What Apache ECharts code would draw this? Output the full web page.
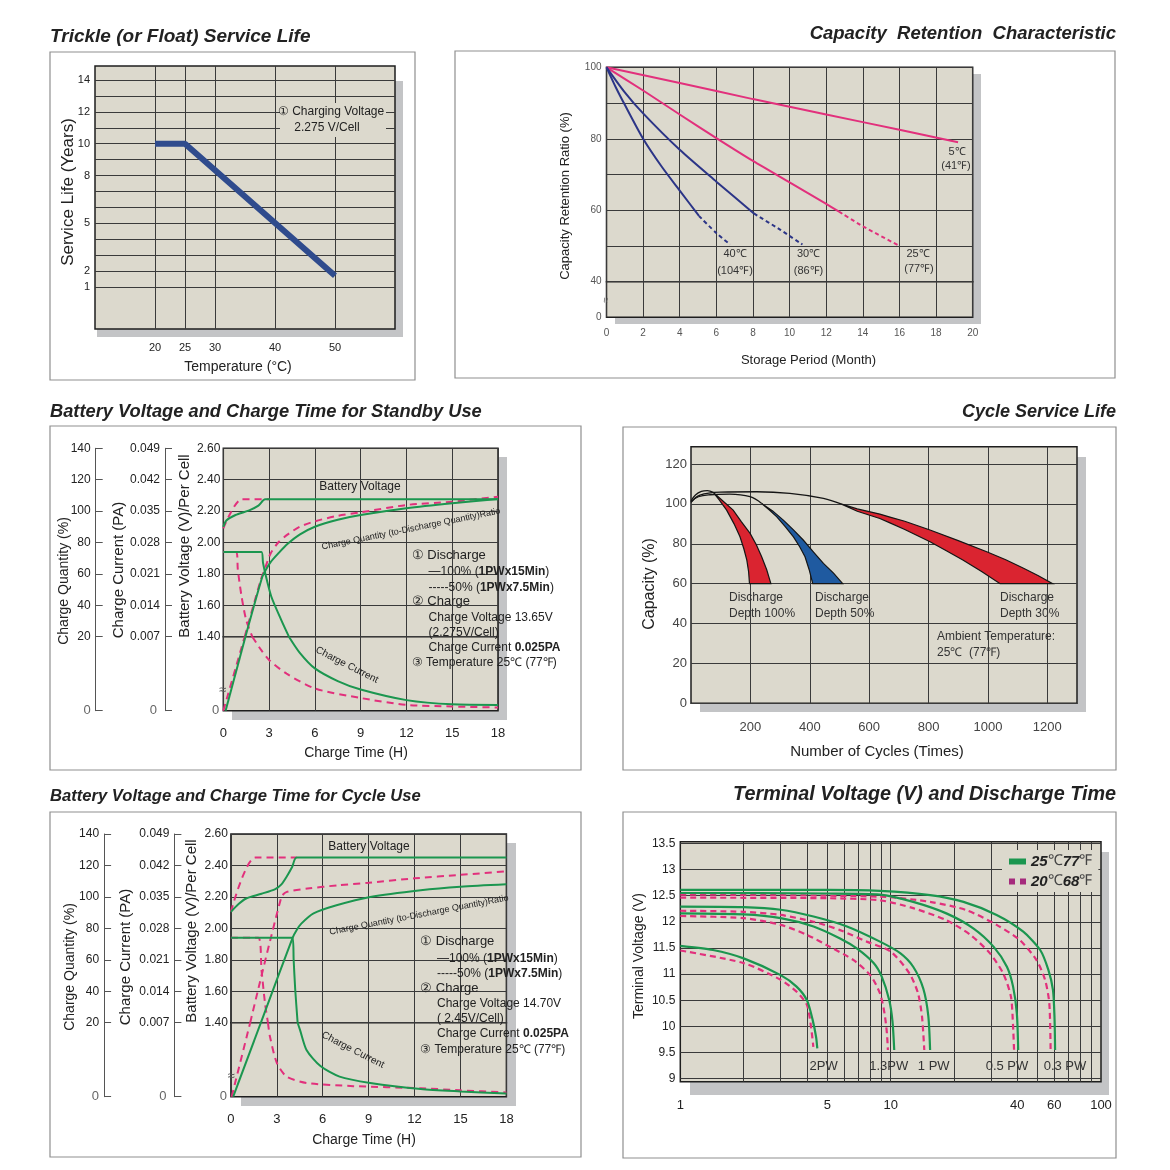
<!DOCTYPE html>
<html>
<head>
<meta charset="utf-8">
<script src="https://cdn.jsdelivr.net/npm/echarts@6.0.0/dist/echarts.min.js"></script>
<style>
  html, body { margin: 0; padding: 0; background: #fff; }
  #main { width: 1170px; height: 1170px; }
</style>
</head>
<body>
<div id="main"></div>
<script>
// ---------- data ----------

// Trickle (float) service life: [temperature °C, years]
var trickleLife = [[20, 10], [25, 10], [50, 1.7]];
var trickleTempTicks = [20, 25, 30, 40, 50];
var trickleYearGrid = [1, 2, 3, 4, 5, 6, 7, 8, 9, 10, 11, 12, 13, 14];
var trickleYearLabels = [1, 2, 5, 8, 10, 12, 14];

// Capacity retention: [month, %]
var ret5C = [[0, 100], [4, 95.6], [8, 91.1], [12, 86.8], [16, 82.5], [19.2, 79]];
var ret25C = [[0, 100], [2, 93.5], [4, 86.8], [6, 80.2], [8, 73.8], [10, 67.8], [12, 61.8], [12.7, 59.6]];
var ret25CExt = [[12.7, 59.6], [14, 55.5], [15.9, 50.3]];
var ret30C = [[0, 100], [1, 93], [2, 87.1], [4, 76.9], [6, 68], [8.05, 59.1]];
var ret30CExt = [[8.05, 59.1], [9.5, 54.5], [10.7, 50.4]];
var ret40C = [[0, 100], [0.5, 94.5], [1, 89.5], [2, 80], [3, 72.3], [4, 65.5], [5.05, 58.4]];
var ret40CExt = [[5.05, 58.4], [6, 53.6], [6.75, 50.4]];
var retentionLabels = [40, 60, 80, 100];

// Standby use: [hours, value]  (100% discharge = solid, 50% = dashed)
var sbVoltFull = [[0, 2.10], [0.2, 2.14], [0.8, 2.175], [1.7, 2.205], [2.3, 2.235], [2.75, 2.275], [18, 2.275]];
var sbVoltHalf = [[0, 2.09], [1.2, 2.275], [3, 2.275]];
var sbCurFull = [[0, 0.0259], [2.5, 0.0259], [2.6, 0.0235], [2.75, 0.0211], [3.15, 0.0159], [3.8, 0.0107], [4.3, 0.007], [5, 0.0055], [6, 0.004], [7.5, 0.0028], [9, 0.002], [12, 0.001], [15, 0.0006], [18, 0.00055]];
var sbCurHalf = [[0, 0.0259], [0.85, 0.0259], [0.95, 0.022], [1.2, 0.0159], [1.5, 0.0107], [1.9, 0.007], [2.5, 0.0057], [3, 0.0048], [4.15, 0.0035], [6, 0.0021], [9, 0.0012], [12, 0.00055], [15, 0.0004], [18, 0.0003]];
var sbQtyFull = [[0.15, 0], [1.45, 20], [2.55, 58], [2.75, 62], [3.1, 67.5], [3.6, 73], [4.2, 79], [5, 85], [6, 90], [7.5, 94.5], [9, 97.5], [12, 101.8], [15, 105], [18, 107.7]];
var sbQtyHalf = [[0, 0], [1.4, 20], [2.45, 56], [2.75, 64], [3.1, 73], [3.6, 80], [4.2, 85], [5, 90], [6, 93.5], [7.5, 97], [9, 99.2], [12, 103.9], [15, 106], [18, 109.2]];

// Cycle use: [hours, value]
var cyVoltFull = [[0, 2.105], [0.5, 2.155], [1.0, 2.19], [2.0, 2.22], [2.9, 2.25], [3.3, 2.28], [3.65, 2.33], [4.0, 2.39], [4.3, 2.45], [18, 2.45]];
var cyVoltHalf = [[0, 2.105], [1.6, 2.45], [4.3, 2.45]];
var cyCurFull = [[0, 0.0259], [4.03, 0.0259], [4.1, 0.021], [4.2, 0.0145], [4.36, 0.007], [4.52, 0.0063], [4.95, 0.0044], [5.85, 0.0029], [7.1, 0.0019], [9.1, 0.0013], [12.4, 0.00072], [15, 0.0005], [18, 0.0003]];
var cyCurHalf = [[0, 0.0259], [1.79, 0.0259], [2.0, 0.0187], [2.23, 0.0113], [2.42, 0.007], [2.55, 0.0057], [3.0, 0.0032], [3.64, 0.0019], [4.95, 0.0013], [8, 0.001], [12.4, 0.0008], [15, 0.0006], [18, 0.0004]];
var cyQtyFull = [[0.15, 0], [1.96, 20], [4.03, 74], [4.3, 79], [4.6, 83], [5.4, 89.5], [6.9, 94.7], [9.1, 100], [12.4, 104.3], [15, 106.5], [18, 108]];
var cyQtyHalf = [[0.05, 0], [1.26, 20], [3.3, 100], [3.65, 103.2], [5, 105.3], [7, 107.4], [9, 109], [12, 111.8], [15, 114], [18, 116.3]];

// Cycle service life: [cycles, capacity %]
var leadDod100 = [[0, 101.5], [15, 104.5], [35, 106.3], [55, 106.7], [75, 105.8]];
var leadDod50 = [[0, 101], [25, 103.6], [64, 104.6], [130, 104.9], [199, 103.6], [238, 100.2]];
var leadDod30 = [[0, 100.8], [30, 104.4], [98, 105.9], [221, 106.1], [333, 105.3], [446, 102.8], [505, 100]];
var dod100Outer = [[75, 105.8], [100, 102.5], [142, 96.9], [170, 91], [199, 85.2], [220, 79.5], [238, 73.5], [255, 67], [269, 60]];
var dod100Inner = [[75, 105.8], [95, 102], [120, 96.9], [145, 90], [165, 83.5], [178, 77.5], [188, 71.8], [194, 66], [197, 60]];
var dod50Outer = [[238, 100.2], [275, 96.5], [311, 91.9], [345, 87], [378, 81.9], [412, 76], [446, 70.2], [480, 65.3], [511, 60]];
var dod50Inner = [[238, 100.2], [265, 96.8], [289, 93.5], [318, 88.5], [345, 83.5], [366, 78.5], [384, 73.5], [398, 67], [410, 60]];
var dod30Outer = [[505, 100], [560, 97.5], [636, 94.9], [670, 93.4], [720, 91.3], [805, 86.9], [900, 81.6], [996, 76], [1060, 72], [1120, 67.7], [1170, 64], [1218, 60]];
var dod30Inner = [[505, 100], [560, 96.3], [636, 92.7], [670, 90.5], [720, 87.2], [805, 81], [860, 76.5], [917, 71.8], [980, 66], [1041, 60]];
var cycleTicks = [200, 400, 600, 800, 1000, 1200];
var capacityTicks = [0, 20, 40, 60, 80, 100, 120];

// Terminal voltage vs discharge time (min): 25°C solid, 20°C dashed
var tv25_2PW = [[1, 11.54], [1.43, 11.46], [2, 11.3], [3, 10.98], [3.57, 10.76], [4, 10.5], [4.26, 10.12], [4.42, 9.8], [4.48, 9.58]];
var tv20_2PW = [[1, 11.45], [2, 11.21], [3, 10.89], [3.6, 10.65], [4, 10.41], [4.18, 10.0], [4.29, 9.61]];
var tv25_13PW = [[1, 12.16], [2, 12.14], [3, 12.07], [4.3, 11.91], [5.75, 11.68], [6.9, 11.49], [8.3, 11.21], [9.07, 10.95], [9.85, 10.5], [10.2, 10.1], [10.4, 9.55]];
var tv20_13PW = [[1, 12.11], [2, 12.07], [3, 11.94], [4, 11.75], [5.15, 11.52], [6.64, 11.27], [8, 10.98], [8.9, 10.63], [9.35, 10.25], [9.6, 9.87], [9.7, 9.55]];
var tv25_1PW = [[1, 12.29], [2, 12.28], [3, 12.23], [4.3, 12.1], [6.2, 11.91], [8.9, 11.62], [11.1, 11.4], [12.8, 11.14], [14.3, 10.72], [15.1, 10.2], [15.4, 9.55]];
var tv20_1PW = [[1, 12.21], [2, 12.19], [3, 12.13], [4.3, 12.0], [5.75, 11.84], [7.7, 11.62], [10, 11.43], [12.3, 11.01], [13.5, 10.63], [14.1, 10.18], [14.45, 9.55]];
var tv25_05PW = [[1, 12.55], [5, 12.54], [8.9, 12.52], [12.8, 12.38], [18.4, 12.16], [24.8, 11.87], [30.9, 11.52], [35.7, 11.14], [38.2, 10.76], [39.8, 10.25], [40.4, 9.55]];
var tv20_05PW = [[1, 12.46], [5, 12.45], [8.9, 12.41], [12.8, 12.26], [18.4, 12.03], [23.9, 11.75], [29.6, 11.4], [34.3, 11.01], [37.3, 10.57], [38.2, 10.0], [38.6, 9.55]];
var tv25_03PW = [[1, 12.61], [5, 12.61], [8.9, 12.59], [15.4, 12.51], [22.2, 12.38], [31.9, 12.13], [42.7, 11.81], [51.4, 11.46], [56.2, 11.08], [59.1, 10.7], [60.1, 10.18], [60.5, 9.55]];
var tv20_03PW = [[1, 12.52], [8.9, 12.48], [15.4, 12.38], [23, 12.22], [31.9, 11.94], [41.1, 11.65], [49.3, 11.27], [54.2, 10.89], [56.8, 10.44], [57.6, 9.55]];
var dischargeGridTimes = [2, 3, 4, 5, 6, 7, 8, 9, 10, 20, 30, 40, 50, 60, 70, 80, 90];
var dischargeTimeLabels = [1, 5, 10, 40, 60, 100];
var terminalVoltTicks = [9, 9.5, 10, 10.5, 11, 11.5, 12, 12.5, 13, 13.5];

// ---------- styling ----------
var FONT = '"Liberation Sans", Arial, sans-serif';
var C = {
  plot: '#dcd9cd', shadow: '#c3c4c6', grid: '#3a3a3a', frame: '#1e1e1e', box: '#8f8f8f',
  green: '#1b964f', pink: '#e2307c', navy: '#2c3587', trickle: '#2f4b8d',
  red: '#da2430', blue: '#1f5aa0', legendPink: '#a52a7c'
};

var grids = [], xAxes = [], yAxes = [], series = [], graphics = [];

function addGrid(l, t, r, b) {
  grids.push({ left: l, top: t, width: r - l, height: b - t, show: true, backgroundColor: C.plot,
    borderColor: C.frame, borderWidth: 1.5, containLabel: false, outerBoundsMode: 'none' });
  return grids.length - 1;
}
function baseAxis(g, o) {
  return Object.assign({ type: 'value', gridIndex: g, axisLine: { show: false, onZero: false },
    axisTick: { show: false }, axisLabel: { show: false }, splitLine: { show: false } }, o);
}
function addX(g, o) { xAxes.push(baseAxis(g, o)); return xAxes.length - 1; }
function addY(g, o) { yAxes.push(baseAxis(g, o)); return yAxes.length - 1; }
function gridLine() { return { show: true, lineStyle: { color: C.grid, width: 1 } }; }
function plain(v) { return String(v); }
function label(o) { return Object.assign({ color: '#222', fontSize: 12, fontFamily: FONT, margin: 5, formatter: plain }, o); }
function addLine(xi, yi, data, color, width, dash, extra) {
  series.push(Object.assign({
    type: 'line', xAxisIndex: xi, yAxisIndex: yi, data: data, symbol: 'none', smooth: 0.25,
    silent: true, z: dash ? 3 : 4,
    lineStyle: { color: color, width: width, type: dash || 'solid', cap: 'butt' },
    itemStyle: { color: color }
  }, extra || {}));
}
function rect(x0, y0, x1, y1, style, z) {
  graphics.push({ type: 'rect', silent: true, z: z, shape: { x: x0, y: y0, width: x1 - x0, height: y1 - y0 }, style: style });
}
function txt(x, y, text, size, o) {
  o = o || {};
  graphics.push({ type: 'text', silent: true, z: 20, x: x, y: y, rotation: o.rot || 0,
    style: { text: text, fill: o.color || '#222', font: ((o.weight || '') + ' ' + size + 'px ' + (o.family || FONT)).trim(),
      align: o.align || 'center', verticalAlign: 'middle', rich: o.rich } });
}
var VERT = Math.PI / 2;

// ---------- panel frames, shadows, titles ----------
[[50, 52, 415, 380], [455, 51, 1115, 378], [50, 426, 581, 770], [623, 427, 1116, 770], [50, 812, 581, 1157], [623, 812, 1116, 1158]]
  .forEach(function (b) { rect(b[0], b[1], b[2], b[3], { fill: '#fff', stroke: C.box, lineWidth: 1.2 }, -20); });
[[97, 81, 403, 337], [615, 74, 981, 324], [232, 457, 507, 720], [700, 457, 1086, 712], [241, 843, 516, 1106], [690, 852, 1109, 1095]]
  .forEach(function (s) { rect(s[0], s[1], s[2], s[3], { fill: C.shadow }, -10); });

var TITLE = 'bold italic';
txt(50, 37, 'Trickle (or Float) Service Life', 19, { weight: TITLE, align: 'left' });
txt(1116, 34, 'Capacity  Retention  Characteristic', 18.5, { weight: TITLE, align: 'right' });
txt(50, 412, 'Battery Voltage and Charge Time for Standby Use', 18.3, { weight: TITLE, align: 'left' });
txt(1116, 412, 'Cycle Service Life', 18, { weight: TITLE, align: 'right' });
txt(50, 796, 'Battery Voltage and Charge Time for Cycle Use', 16.6, { weight: TITLE, align: 'left' });
txt(1116, 795, 'Terminal Voltage (V) and Discharge Time', 19.8, { weight: TITLE, align: 'right' });

// ---------- 1. trickle service life ----------
var g1 = addGrid(95, 66, 395, 329);
var x1 = addX(g1, { min: 10, max: 60, axisTick: { show: false, customValues: trickleTempTicks }, splitLine: gridLine(),
  axisLabel: label({ customValues: trickleTempTicks, fontSize: 11, margin: 13 }) });
var y1 = addY(g1, { min: -1.64, max: 14.88, axisTick: { show: false, customValues: trickleYearGrid }, splitLine: gridLine(),
  axisLabel: label({ customValues: trickleYearLabels, fontSize: 11, margin: 5 }) });
addLine(x1, y1, trickleLife, C.trickle, 6, null, { smooth: false });
rect(280, 103, 386, 137, { fill: C.plot }, 15);
txt(331, 112, '\u2460 Charging Voltage', 12);
txt(327, 128, '2.275 V/Cell', 12);
txt(68, 192, 'Service Life (Years)', 17, { rot: VERT });
txt(238, 367, 'Temperature (\u00b0C)', 14);

// ---------- 2. capacity retention ----------
var g2u = addGrid(606.5, 67.3, 972.7, 281.7);
var g2l = addGrid(606.5, 281.7, 972.7, 317.3);
var x2u = addX(g2u, { min: 0, max: 20, interval: 2, splitLine: gridLine() });
addX(g2l, { min: 0, max: 20, interval: 2, splitLine: gridLine(), axisLabel: label({ fontSize: 10, color: '#555', margin: 11 }) });
var y2u = addY(g2u, { min: 40, max: 100, interval: 10, splitLine: gridLine(),
  axisLabel: label({ customValues: retentionLabels, fontSize: 10, color: '#555', margin: 5 }) });
addY(g2l, { min: 0, max: 40, axisLabel: label({ customValues: [0], fontSize: 10, color: '#555', margin: 5 }) });
addLine(x2u, y2u, ret5C, C.pink, 2);
addLine(x2u, y2u, ret25C, C.pink, 2);
addLine(x2u, y2u, ret25CExt, C.pink, 2, [4, 3]);
addLine(x2u, y2u, ret30C, C.navy, 2);
addLine(x2u, y2u, ret30CExt, C.navy, 2, [4, 3]);
addLine(x2u, y2u, ret40C, C.navy, 2);
addLine(x2u, y2u, ret40CExt, C.navy, 2, [4, 3]);
txt(606.5, 300, '\u2248', 10, { rot: VERT, color: '#555' });
txt(957, 152, '5\u2103', 11, { color: '#333' });
txt(956, 166, '(41\u2109)', 11, { color: '#333' });
txt(735, 254, '40\u2103', 11, { color: '#333' });
txt(735, 271, '(104\u2109)', 11, { color: '#333' });
txt(808.5, 254, '30\u2103', 11, { color: '#333' });
txt(808.5, 271, '(86\u2109)', 11, { color: '#333' });
txt(918, 254, '25\u2103', 11, { color: '#333' });
txt(919, 269, '(77\u2109)', 11, { color: '#333' });
txt(565, 196, 'Capacity Retention Ratio (%)', 13, { rot: VERT });
txt(808.5, 360, 'Storage Period (Month)', 13);

// ---------- 3 & 5. charge characteristic panels ----------
function chargePanel(p) {
  var gu = addGrid(p.l, p.t, p.r, p.m), gl = addGrid(p.l, p.m, p.r, p.b);
  var xu = addX(gu, { min: 0, max: 18, interval: 3, splitLine: gridLine() });
  var xl = addX(gl, { min: 0, max: 18, interval: 3, splitLine: gridLine(), axisLabel: label({ fontSize: 13, margin: 16 }) });
  var side = { show: true, onZero: false, lineStyle: { color: '#555', width: 1 } };
  function tick(vals) { return { show: true, inside: true, length: 7, lineStyle: { color: '#555' }, customValues: vals }; }
  function zero(m) { return label({ customValues: [0], formatter: function () { return '0'; }, color: '#666', fontSize: 13, margin: m }); }
  var yV = addY(gu, { min: 1.4, max: 2.6, interval: 0.2, splitLine: gridLine(),
    axisLabel: label({ margin: 3, formatter: function (v) { return v.toFixed(2); } }) });
  var yI = addY(gu, { position: 'left', offset: p.offI, min: 0.007, max: 0.049, interval: 0.007, axisLine: side,
    axisTick: { show: true, inside: true, length: 7, lineStyle: { color: '#555' } },
    axisLabel: label({ formatter: function (v) { return v.toFixed(3); } }) });
  var yQ = addY(gu, { position: 'left', offset: p.offQ, min: 20, max: 140, interval: 20, axisLine: side,
    axisTick: { show: true, inside: true, length: 7, lineStyle: { color: '#555' } }, axisLabel: label({}) });
  addY(gl, { min: 0, max: 1.4, axisLabel: zero(4) });
  var yI0 = addY(gl, { position: 'left', offset: p.offI, min: 0, max: 0.007, axisLine: side, axisTick: tick([0]), axisLabel: zero(8) });
  var yQ0 = addY(gl, { position: 'left', offset: p.offQ, min: 0, max: 20, axisLine: side, axisTick: tick([0]), axisLabel: zero(5) });

  var dash = [7, 5];
  function split(pts, cut, yHi, yLo, color, d) {
    addLine(xu, yHi, pts.filter(function (q) { return q[1] >= cut; }), color, 2, d);
    addLine(xl, yLo, pts.filter(function (q) { return q[1] <= cut; }), color, 2, d);
  }
  addLine(xu, yV, p.voltHalf, C.pink, 2, dash);
  addLine(xu, yV, p.voltFull, C.green, 2);
  split(p.curHalf, 0.007, yI, yI0, C.pink, dash);
  split(p.curFull, 0.007, yI, yI0, C.green);
  split(p.qtyHalf, 20, yQ, yQ0, C.pink, dash);
  split(p.qtyFull, 20, yQ, yQ0, C.green);
}

chargePanel({ l: 223.3, t: 448.3, r: 498, m: 636.7, b: 710.7, offI: 58.3, offQ: 127.6,
  voltFull: sbVoltFull, voltHalf: sbVoltHalf, curFull: sbCurFull, curHalf: sbCurHalf, qtyFull: sbQtyFull, qtyHalf: sbQtyHalf });
chargePanel({ l: 230.9, t: 834, r: 506.4, m: 1022.7, b: 1096.7, offI: 56.5, offQ: 126.8,
  voltFull: cyVoltFull, voltHalf: cyVoltHalf, curFull: cyCurFull, curHalf: cyCurHalf, qtyFull: cyQtyFull, qtyHalf: cyQtyHalf });

var richB = { b: { fontWeight: 'bold', fontSize: 12, fontFamily: FONT, fill: '#222' } };
function chargeNotes(x0, x1, y, voltText, cellText) {
  var step = [0, 16.7, 32.3, 46.7, 62.3, 77.3, 92.3, 107.7];
  txt(x0, y + step[0], '\u2460 Discharge', 13, { align: 'left' });
  txt(x1, y + step[1], '\u2014100% ({b|1PWx15Min})', 12, { align: 'left', rich: richB });
  txt(x1, y + step[2], '-----50% ({b|1PWx7.5Min})', 12, { align: 'left', rich: richB });
  txt(x0, y + step[3], '\u2461 Charge', 13, { align: 'left' });
  txt(x1, y + step[4], 'Charge Voltage ' + voltText, 12, { align: 'left' });
  txt(x1, y + step[5], cellText, 12, { align: 'left' });
  txt(x1, y + step[6], 'Charge Current {b|0.025PA}', 12, { align: 'left', rich: richB });
  txt(x0, y + step[7], '\u2462 Temperature 25\u2103 (77\u2109)', 12, { align: 'left' });
}
// standby notes
txt(360, 487, 'Battery Voltage', 12);
txt(411, 529, 'Charge Quantity (to-Discharge Quantity)Ratio', 9, { rot: 0.2 });
txt(347, 665, 'Charge Current', 10, { rot: -0.47 });
chargeNotes(411.7, 428.6, 555, '13.65V', '(2.275V/Cell)');
txt(222.5, 690, '\u2248', 13, { color: '#555' });
txt(64, 581, 'Charge Quantity (%)', 14, { rot: VERT });
txt(119, 570, 'Charge Current (PA)', 15, { rot: VERT });
txt(185, 546, 'Battery Voltage (V)/Per Cell', 15, { rot: VERT });
txt(356, 753, 'Charge Time (H)', 14);
// cycle notes
txt(369, 847, 'Battery Voltage', 12);
txt(419, 915, 'Charge Quantity (to-Discharge Quantity)Ratio', 9, { rot: 0.19 });
txt(353, 1050, 'Charge Current', 10, { rot: -0.47 });
chargeNotes(420.2, 437, 941.7, '14.70V', '( 2.45V/Cell)');
txt(231, 1076, '\u2248', 13, { color: '#555' });
txt(70, 967, 'Charge Quantity (%)', 14, { rot: VERT });
txt(126, 957, 'Charge Current (PA)', 15, { rot: VERT });
txt(192, 931, 'Battery Voltage (V)/Per Cell', 15, { rot: VERT });
txt(364, 1140, 'Charge Time (H)', 14);

// ---------- 4. cycle service life ----------
var g4 = addGrid(691, 446.7, 1077, 703.3);
var x4 = addX(g4, { min: 0, max: 1300, axisTick: { show: false, customValues: cycleTicks }, splitLine: gridLine(),
  axisLabel: label({ customValues: cycleTicks, fontSize: 13, color: '#444', margin: 18 }) });
var y4 = addY(g4, { min: 0, max: 128.7, axisTick: { show: false, customValues: capacityTicks }, splitLine: gridLine(),
  axisLabel: label({ customValues: capacityTicks, fontSize: 13, color: '#444', margin: 4 }) });
function band(outer, inner, color) {
  series.push({ type: 'custom', xAxisIndex: x4, yAxisIndex: y4, data: [[outer[0][0], outer[0][1]]], silent: true, z: 3,
    renderItem: function (params, api) {
      var pts = outer.concat(inner.slice().reverse()).map(function (p) { return api.coord(p); });
      return { type: 'polygon', shape: { points: pts }, style: { fill: color, stroke: '#151515', lineWidth: 1.2 } };
    } });
}
addLine(x4, y4, leadDod30, '#151515', 1.3, null, { smooth: 0.4 });
addLine(x4, y4, leadDod50, '#151515', 1.3, null, { smooth: 0.4 });
addLine(x4, y4, leadDod100, '#151515', 1.3, null, { smooth: 0.4 });
band(dod100Outer, dod100Inner, C.red);
band(dod50Outer, dod50Inner, C.blue);
band(dod30Outer, dod30Inner, C.red);
txt(729, 598, 'Discharge', 12, { align: 'left', color: '#333' });
txt(729, 614, 'Depth 100%', 12, { align: 'left', color: '#333' });
txt(815, 598, 'Discharge', 12, { align: 'left', color: '#333' });
txt(815, 614, 'Depth 50%', 12, { align: 'left', color: '#333' });
txt(1000, 598, 'Discharge', 12, { align: 'left', color: '#333' });
txt(1000, 614, 'Depth 30%', 12, { align: 'left', color: '#333' });
txt(937, 637, 'Ambient Temperature:', 12, { align: 'left', color: '#333' });
txt(937, 653, '25\u2103  (77\u2109)', 12, { align: 'left', color: '#333' });
txt(650, 584, 'Capacity (%)', 16, { rot: VERT });
txt(877, 752, 'Number of Cycles (Times)', 15);

// ---------- 6. terminal voltage ----------
var g6 = addGrid(680.3, 841.7, 1101, 1081.7);
var x6 = addX(g6, { type: 'log', logBase: 10, min: 1, max: 100, axisTick: { show: false, customValues: dischargeGridTimes },
  splitLine: gridLine(), axisLabel: label({ customValues: dischargeTimeLabels, fontSize: 13, margin: 17 }) });
var y6 = addY(g6, { min: 8.943, max: 13.53, axisTick: { show: false, customValues: terminalVoltTicks }, splitLine: gridLine(),
  axisLabel: label({ customValues: terminalVoltTicks, fontSize: 12, margin: 5 }) });
var NAME25 = '25\u210377\u2109', NAME20 = '20\u210368\u2109';
[tv20_2PW, tv20_13PW, tv20_1PW, tv20_05PW, tv20_03PW].forEach(function (d) {
  addLine(x6, y6, d, C.pink, 2.2, [6, 4], { name: NAME20 });
});
[tv25_2PW, tv25_13PW, tv25_1PW, tv25_05PW, tv25_03PW].forEach(function (d) {
  addLine(x6, y6, d, C.green, 2.2, null, { name: NAME25 });
});
txt(823.7, 1066, '2PW', 13, { color: '#333' });
txt(888.7, 1066, '1.3PW', 13, { color: '#333' });
txt(933.7, 1066, '1 PW', 13, { color: '#333' });
txt(1007, 1066, '0.5 PW', 13, { color: '#333' });
txt(1065, 1066, '0.3 PW', 13, { color: '#333' });
txt(639, 956, 'Terminal Voltage (V)', 14, { rot: VERT });

var legendText = {};
legendText[NAME25] = '{b|25}{u|\u2103}{b|77}{u|\u2109}';
legendText[NAME20] = '{b|20}{u|\u2103}{b|68}{u|\u2109}';

var option = {
  animation: false,
  backgroundColor: '#fff',
  grid: grids,
  xAxis: xAxes,
  yAxis: yAxes,
  series: series,
  graphic: { elements: graphics },
  legend: {
    data: [
      { name: NAME25, icon: 'rect', itemStyle: { color: C.green } },
      { name: NAME20, icon: 'path://M0,0h6v6h-6zM11,0h6v6h-6z', itemStyle: { color: C.legendPink } }
    ],
    orient: 'vertical', left: 1002, top: 850, padding: [4, 6, 3, 7], itemGap: 5,
    itemWidth: 17, itemHeight: 6, backgroundColor: C.plot, selectedMode: false,
    formatter: function (n) { return legendText[n]; },
    textStyle: { rich: {
      b: { fontSize: 15, fontWeight: 'bold', fontStyle: 'italic', fontFamily: FONT, color: '#222', lineHeight: 18 },
      u: { fontSize: 15, fontFamily: '"Liberation Serif", serif', color: '#444', lineHeight: 18 }
    } }
  }
};

var chart = echarts.init(document.getElementById('main'));
chart.setOption(option);
</script>
</body>
</html>
